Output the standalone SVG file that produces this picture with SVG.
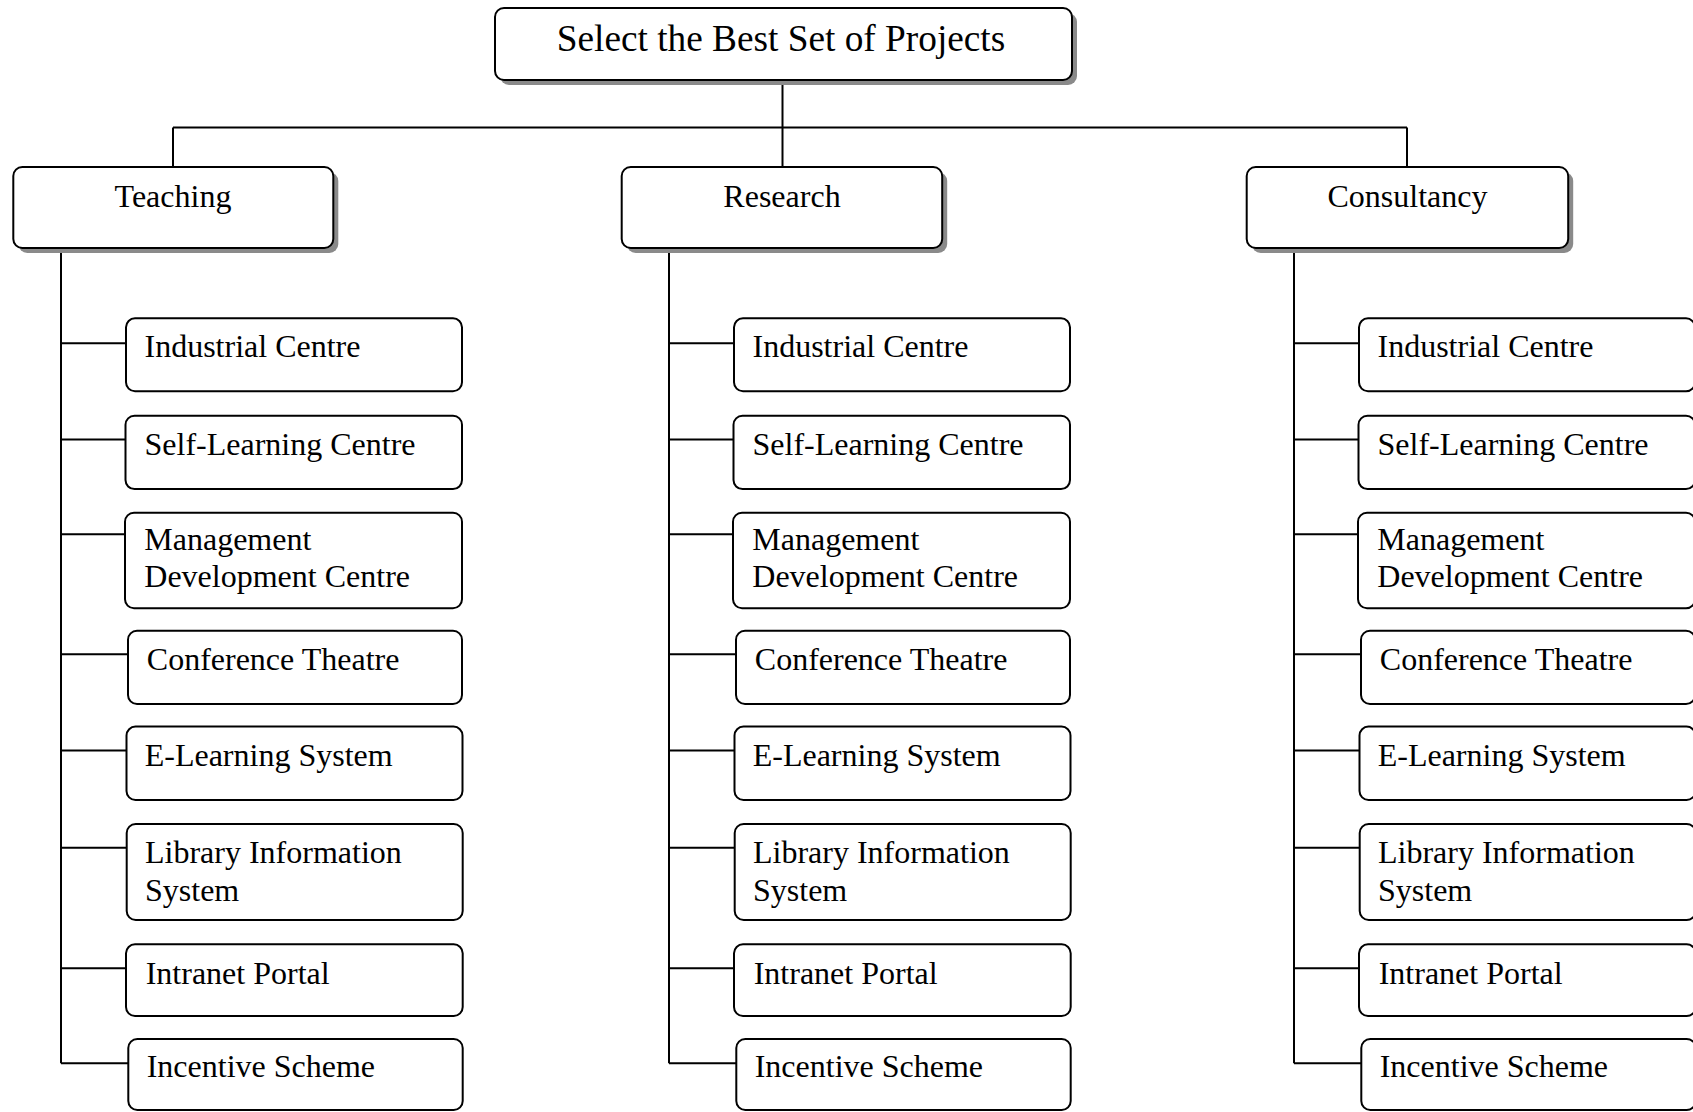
<svg xmlns="http://www.w3.org/2000/svg" width="1693" height="1112" viewBox="0 0 1693 1112">
<style>
  .box { fill: #ffffff; stroke: #000000; stroke-width: 2; }
  .shadow { fill: #8a8a8a; stroke: none; }
  .conn { fill: none; stroke: #000000; stroke-width: 2; }
  text { font-family: "Liberation Serif", "Times New Roman", serif; fill: #000000; }
  .title { font-size: 37.3px; text-anchor: middle; }
  .cat { font-size: 32px; text-anchor: middle; }
  .item { font-size: 32px; }
</style>
<rect x="0" y="0" width="1693" height="1112" fill="#ffffff"/>

<g id="connectors">
  <line class="conn" x1="782.5" y1="80" x2="782.5" y2="167"/>
  <line class="conn" x1="173" y1="127.5" x2="1407" y2="127.5"/>
  <line class="conn" x1="173" y1="127.5" x2="173" y2="167"/>
  <line class="conn" x1="1407" y1="127.5" x2="1407" y2="167"/>
  <g id="conn-teaching">
    <path class="conn" d="M61,248 V1063.3 M61,343.3 H126 M61,439.4 H125.5 M61,534.3 H125 M61,654.3 H128 M61,750.4 H126.5 M61,847.7 H126.7 M61,968.3 H126 M61,1063.3 H128.3"/>
  </g>
  <g id="conn-research" transform="translate(608,0)">
    <path class="conn" d="M61,248 V1063.3 M61,343.3 H126 M61,439.4 H125.5 M61,534.3 H125 M61,654.3 H128 M61,750.4 H126.5 M61,847.7 H126.7 M61,968.3 H126 M61,1063.3 H128.3"/>
  </g>
  <g id="conn-consultancy" transform="translate(1233,0)">
    <path class="conn" d="M61,248 V1063.3 M61,343.3 H126 M61,439.4 H125.5 M61,534.3 H125 M61,654.3 H128 M61,750.4 H126.5 M61,847.7 H126.7 M61,968.3 H126 M61,1063.3 H128.3"/>
  </g>
</g>

<g id="root">
  <rect class="shadow" x="500" y="13" width="577" height="72" rx="9"/>
  <rect class="box" x="495" y="8" width="577" height="72" rx="9"/>
  <text class="title" x="781" y="50.7">Select the Best Set of Projects</text>
</g>

<g id="teaching">
  <rect class="shadow" x="18.3" y="172" width="320" height="81" rx="9"/>
  <rect class="box" x="13.3" y="167" width="320" height="81" rx="9"/>
  <text class="cat" x="173" y="206.5">Teaching</text>
</g>
<g id="research">
  <rect class="shadow" x="626.7" y="172" width="320.5" height="81" rx="9"/>
  <rect class="box" x="621.7" y="167" width="320.5" height="81" rx="9"/>
  <text class="cat" x="782" y="206.5">Research</text>
</g>
<g id="consultancy">
  <rect class="shadow" x="1251.7" y="172" width="321.5" height="81" rx="9"/>
  <rect class="box" x="1246.7" y="167" width="321.5" height="81" rx="9"/>
  <text class="cat" x="1407.5" y="206.5">Consultancy</text>
</g>

<g id="teaching-items">
  <g id="t-industrial"><rect class="box" x="126" y="318.3" width="336" height="73" rx="9"/><text class="item" x="144.5" y="357.3">Industrial Centre</text></g>
  <g id="t-selflearning"><rect class="box" x="125.5" y="415.7" width="336.5" height="73.4" rx="9"/><text class="item" x="144.5" y="454.7">Self-Learning Centre</text></g>
  <g id="t-management"><rect class="box" x="125" y="512.7" width="337" height="95.6" rx="9"/><text class="item" x="144.3" y="550">Management</text><text class="item" x="144.3" y="587.3">Development Centre</text></g>
  <g id="t-conference"><rect class="box" x="128" y="630.7" width="334" height="73.3" rx="9"/><text class="item" x="146.8" y="669.7">Conference Theatre</text></g>
  <g id="t-elearning"><rect class="box" x="126.5" y="726.6" width="336" height="73.4" rx="9"/><text class="item" x="144.7" y="765.6">E-Learning System</text></g>
  <g id="t-library"><rect class="box" x="126.7" y="824" width="336" height="96" rx="9"/><text class="item" x="145" y="863.3">Library Information</text><text class="item" x="145" y="900.7">System</text></g>
  <g id="t-intranet"><rect class="box" x="126" y="944.3" width="336.7" height="71.7" rx="9"/><text class="item" x="145.7" y="984">Intranet Portal</text></g>
  <g id="t-incentive"><rect class="box" x="128.3" y="1039" width="334.4" height="71" rx="9"/><text class="item" x="146.7" y="1077.3">Incentive Scheme</text></g>
</g>

<g id="research-items" transform="translate(608,0)">
  <g id="r-industrial"><rect class="box" x="126" y="318.3" width="336" height="73" rx="9"/><text class="item" x="144.5" y="357.3">Industrial Centre</text></g>
  <g id="r-selflearning"><rect class="box" x="125.5" y="415.7" width="336.5" height="73.4" rx="9"/><text class="item" x="144.5" y="454.7">Self-Learning Centre</text></g>
  <g id="r-management"><rect class="box" x="125" y="512.7" width="337" height="95.6" rx="9"/><text class="item" x="144.3" y="550">Management</text><text class="item" x="144.3" y="587.3">Development Centre</text></g>
  <g id="r-conference"><rect class="box" x="128" y="630.7" width="334" height="73.3" rx="9"/><text class="item" x="146.8" y="669.7">Conference Theatre</text></g>
  <g id="r-elearning"><rect class="box" x="126.5" y="726.6" width="336" height="73.4" rx="9"/><text class="item" x="144.7" y="765.6">E-Learning System</text></g>
  <g id="r-library"><rect class="box" x="126.7" y="824" width="336" height="96" rx="9"/><text class="item" x="145" y="863.3">Library Information</text><text class="item" x="145" y="900.7">System</text></g>
  <g id="r-intranet"><rect class="box" x="126" y="944.3" width="336.7" height="71.7" rx="9"/><text class="item" x="145.7" y="984">Intranet Portal</text></g>
  <g id="r-incentive"><rect class="box" x="128.3" y="1039" width="334.4" height="71" rx="9"/><text class="item" x="146.7" y="1077.3">Incentive Scheme</text></g>
</g>

<g id="consultancy-items" transform="translate(1233,0)">
  <g id="c-industrial"><rect class="box" x="126" y="318.3" width="336" height="73" rx="9"/><text class="item" x="144.5" y="357.3">Industrial Centre</text></g>
  <g id="c-selflearning"><rect class="box" x="125.5" y="415.7" width="336.5" height="73.4" rx="9"/><text class="item" x="144.5" y="454.7">Self-Learning Centre</text></g>
  <g id="c-management"><rect class="box" x="125" y="512.7" width="337" height="95.6" rx="9"/><text class="item" x="144.3" y="550">Management</text><text class="item" x="144.3" y="587.3">Development Centre</text></g>
  <g id="c-conference"><rect class="box" x="128" y="630.7" width="334" height="73.3" rx="9"/><text class="item" x="146.8" y="669.7">Conference Theatre</text></g>
  <g id="c-elearning"><rect class="box" x="126.5" y="726.6" width="336" height="73.4" rx="9"/><text class="item" x="144.7" y="765.6">E-Learning System</text></g>
  <g id="c-library"><rect class="box" x="126.7" y="824" width="336" height="96" rx="9"/><text class="item" x="145" y="863.3">Library Information</text><text class="item" x="145" y="900.7">System</text></g>
  <g id="c-intranet"><rect class="box" x="126" y="944.3" width="336.7" height="71.7" rx="9"/><text class="item" x="145.7" y="984">Intranet Portal</text></g>
  <g id="c-incentive"><rect class="box" x="128.3" y="1039" width="334.4" height="71" rx="9"/><text class="item" x="146.7" y="1077.3">Incentive Scheme</text></g>
</g>
</svg>
